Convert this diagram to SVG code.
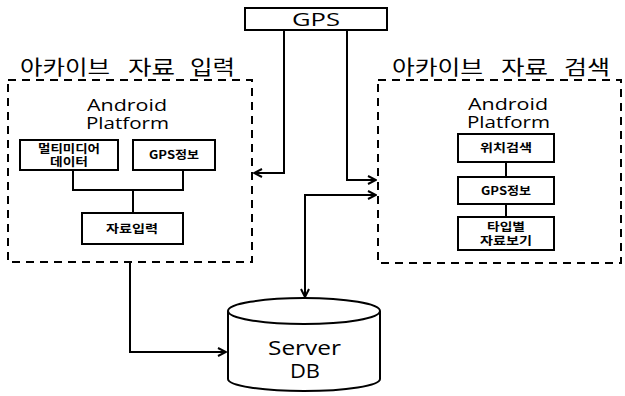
<svg xmlns="http://www.w3.org/2000/svg" width="625" height="396" viewBox="0 0 625 396">
<style>
.box{fill:#fff;stroke:#000;stroke-width:2}
.dash{fill:none;stroke:#000;stroke-width:2;stroke-dasharray:8 6}
.ln{fill:none;stroke:#000;stroke-width:2}
.lat{font-family:"Open Sans","Noto Sans",sans-serif;fill:#000}
.title{font-family:"Noto Sans CJK KR",sans-serif;font-size:20px;fill:#000}
.ap{font-size:16.5px}
.sm{font-family:"Noto Sans CJK KR","Noto Sans",sans-serif;font-size:11.5px;font-weight:bold;fill:#000}
</style>
<defs>
<marker id="ah" viewBox="0 0 10 10" refX="9" refY="5" markerWidth="5" markerHeight="5" orient="auto-start-reverse" markerUnits="strokeWidth">
<path d="M1,1 L9,5 L1,9" fill="none" stroke="#000" stroke-width="2"/>
</marker>
</defs>
<rect width="625" height="396" fill="#fff"/>

<g id="connectors">
<path class="ln" d="M284,30 V173 H254" marker-end="url(#ah)"/>
<path class="ln" d="M347,30 V180 H376" marker-end="url(#ah)"/>
<path class="ln" d="M376,195 H305 V297" marker-start="url(#ah)" marker-end="url(#ah)"/>
<path class="ln" d="M130,262 V352 H226" marker-end="url(#ah)"/>
<path class="ln" d="M73,170 V190 H183 V170 M133,190 V213"/>
<path class="ln" d="M506,162 V177 M506,204 V217"/>
</g>

<g id="gps">
<rect class="box" x="245" y="8" width="142" height="22"/>
<text class="lat" x="292" y="26" font-size="18" textLength="48" lengthAdjust="spacingAndGlyphs">GPS</text>
</g>

<g id="input-group">
<text class="title" y="75"><tspan x="20" textLength="90" lengthAdjust="spacingAndGlyphs">아카이브</tspan> <tspan x="128" textLength="47" lengthAdjust="spacingAndGlyphs">자료</tspan> <tspan x="190" textLength="45" lengthAdjust="spacingAndGlyphs">입력</tspan></text>
<rect class="dash" x="8" y="80" width="244" height="182"/>
<text class="lat ap" x="87" y="111" textLength="80" lengthAdjust="spacingAndGlyphs">Android</text>
<text class="lat ap" x="86" y="129" textLength="83" lengthAdjust="spacingAndGlyphs">Platform</text>
</g>
<g id="multimedia">
<rect class="box" x="20" y="140" width="98" height="30"/>
<text class="sm" x="38" y="153" textLength="62" lengthAdjust="spacingAndGlyphs">멀티미디어</text>
<text class="sm" x="50" y="166" textLength="38" lengthAdjust="spacingAndGlyphs">데이터</text>
</g>
<g id="gpsinfo-left">
<rect class="box" x="133" y="140" width="82" height="30"/>
<text class="sm" x="149" y="159" textLength="50" lengthAdjust="spacingAndGlyphs">GPS정보</text>
</g>
<g id="input">
<rect class="box" x="82" y="213" width="101" height="31"/>
<text class="sm" x="106" y="233" textLength="52" lengthAdjust="spacingAndGlyphs">자료입력</text>
</g>

<g id="search-group">
<text class="title" y="75"><tspan x="392" textLength="91" lengthAdjust="spacingAndGlyphs">아카이브</tspan> <tspan x="501" textLength="47" lengthAdjust="spacingAndGlyphs">자료</tspan> <tspan x="564" textLength="46" lengthAdjust="spacingAndGlyphs">검색</tspan></text>
<rect class="dash" x="378" y="80" width="243" height="183"/>
<text class="lat ap" x="468" y="110" textLength="80" lengthAdjust="spacingAndGlyphs">Android</text>
<text class="lat ap" x="467" y="128" textLength="83" lengthAdjust="spacingAndGlyphs">Platform</text>
</g>
<g id="location-search">
<rect class="box" x="458" y="134" width="96" height="28"/>
<text class="sm" x="480" y="152" textLength="52" lengthAdjust="spacingAndGlyphs">위치검색</text>
</g>
<g id="gpsinfo-right">
<rect class="box" x="458" y="177" width="96" height="27"/>
<text class="sm" x="481" y="195" textLength="50" lengthAdjust="spacingAndGlyphs">GPS정보</text>
</g>
<g id="type-view">
<rect class="box" x="458" y="217" width="96" height="33"/>
<text class="sm" x="487" y="231" textLength="38" lengthAdjust="spacingAndGlyphs">타입별</text>
<text class="sm" x="480" y="245" textLength="52" lengthAdjust="spacingAndGlyphs">자료보기</text>
</g>

<g id="server-db">
<path class="box" d="M228,311 V379 A76,12 0 0 0 380,379 V311 A76,13 0 0 0 228,311 Z"/>
<path class="ln" d="M228,311 A76,13 0 0 0 380,311"/>
<text class="lat" x="268" y="355" font-size="20" textLength="73" lengthAdjust="spacingAndGlyphs">Server</text>
<text class="lat" x="290" y="378" font-size="20" textLength="30" lengthAdjust="spacingAndGlyphs">DB</text>
</g>
</svg>
